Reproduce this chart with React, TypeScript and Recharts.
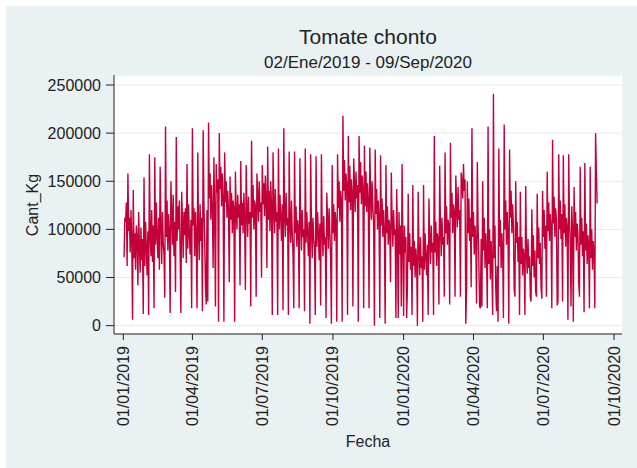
import React from "react";
import { LineChart, Line, XAxis, YAxis, CartesianGrid } from "recharts";

// Serie diaria (miles de kg), 02/Ene/2019 - 09/Sep/2020
const cantidadMilesKg: number[] = [
  71, 112, 108, 128, 62,
  158, 98, 112, 76, 120, 88, 6,
  141, 70, 96, 58, 104, 92, 42,
  118, 84, 55, 102, 68, 90, 12,
  154, 62, 108, 80, 52, 98, 11,
  178, 96, 72, 120, 66, 104, 18,
  175, 84, 128, 92, 70, 112, 58,
  165, 106, 64, 118, 86, 74, 29,
  207, 92, 130, 78, 116, 96, 13,
  150, 118, 84, 136, 72, 108, 35,
  196, 88, 124, 100, 130, 76, 13,
  139, 112, 70, 118, 94, 122, 65,
  168, 80, 126, 96, 74, 110, 18,
  205, 104, 122, 72, 118, 90, 18,
  180, 96, 68, 126, 88, 112, 15,
  203, 128, 88, 40, 22, 120, 25,
  211, 132, 158, 110, 146, 120, 60,
  175, 120, 20, 168, 138, 152, 4,
  200, 142, 165, 124, 158, 132, 4,
  180, 128, 150, 112, 140, 118, 45,
  155, 110, 138, 96, 130, 122, 4,
  160, 118, 100, 136, 112, 126, 42,
  171, 104, 128, 96, 138, 110, 37,
  167, 120, 92, 134, 106, 118, 20,
  192, 112, 146, 100, 130, 124, 30,
  158, 136, 108, 150, 118, 128, 50,
  167, 126, 148, 114, 156, 130, 60,
  186, 110, 140, 98, 150, 124, 11,
  180, 128, 96, 142, 108, 118, 11,
  184, 100, 136, 112, 88, 126, 16,
  205, 118, 92, 138, 104, 112, 11,
  181, 108, 86, 130, 96, 74, 18,
  181, 96, 124, 82, 110, 102, 18,
  174, 112, 78, 120, 92, 100, 15,
  184, 86, 118, 96, 72, 108, 2,
  178, 104, 70, 112, 90, 80, 11,
  176, 82, 118, 96, 68, 106, 21,
  178, 100, 72, 114, 84, 92, 8,
  138, 110, 80, 122, 96, 70, 2,
  167, 96, 126, 88, 118, 106, 4,
  178, 122, 150, 108, 140, 128, 4,
  218, 140, 172, 130, 158, 146, 11,
  197, 128, 166, 120, 152, 138, 20,
  174, 150, 118, 160, 132, 146, 4,
  197, 138, 170, 126, 156, 142, 18,
  187, 124, 160, 118, 148, 130, 18,
  185, 140, 110, 150, 122, 106, 0,
  183, 116, 142, 100, 130, 112, 8,
  177, 104, 132, 92, 120, 96, 2,
  167, 96, 124, 84, 110, 102, 45,
  159, 112, 82, 120, 94, 100, 8,
  142, 96, 8, 118, 74, 104, 20,
  168, 90, 10, 104, 76, 92, 8,
  40, 137, 66, 96, 58, 82, 11,
  146, 62, 88, 50, 80, 66, 0,
  139, 78, 52, 92, 60, 72, 4,
  146, 58, 96, 70, 52, 84, 11,
  132, 90, 64, 104, 76, 86, 11,
  197, 76, 108, 62, 96, 88, 22,
  166, 104, 72, 112, 84, 92, 30,
  180, 96, 124, 84, 110, 104, 22,
  190, 112, 138, 96, 126, 118, 30,
  156, 128, 102, 144, 110, 120, 30,
  159, 150, 132, 168, 140, 152, 2,
  40, 150, 96, 132, 88, 112, 40,
  205, 92, 118, 74, 104, 86, 23,
  170, 104, 66, 20, 18, 90, 20,
  150, 78, 112, 60, 96, 72, 18,
  207, 64, 100, 48, 88, 58, 11,
  241, 70, 104, 38, 15, 62, 4,
  184, 82, 110, 60, 96, 74, 8,
  209, 100, 130, 84, 118, 92, 2,
  183, 112, 140, 96, 126, 104, 38,
  30, 150, 86, 108, 66, 92, 11,
  139, 64, 92, 52, 80, 70, 11,
  145, 76, 54, 90, 60, 72, 30,
  25, 121, 62, 94, 50, 78, 35,
  30, 137, 70, 102, 64, 86, 40,
  28, 140, 92, 120, 80, 104, 30,
  160, 98, 128, 88, 116, 100, 18,
  193, 106, 134, 92, 122, 110, 21,
  25, 178, 100, 130, 90, 116, 25,
  177, 96, 126, 82, 112, 100, 6,
  178, 110, 86, 20, 124, 98, 4,
  144, 92, 118, 78, 106, 96, 45,
  30, 165, 84, 112, 72, 98, 14,
  169, 78, 106, 64, 94, 82, 18,
  165, 70, 100, 58, 88, 76, 18,
  200, 160, 127,
];

const fechaInicio: [number, number, number] = [2019, 1, 2];
const fechasTicks: [number, number, number][] = [
  [2019, 1, 1], [2019, 4, 1], [2019, 7, 1], [2019, 10, 1],
  [2020, 1, 1], [2020, 4, 1], [2020, 7, 1], [2020, 10, 1],
];
const yTicks: number[] = [0, 50000, 100000, 150000, 200000, 250000];

const dia = ([y, m, d]: [number, number, number]) => Date.UTC(y, m - 1, d) / 86400000;
const inicio = dia(fechaInicio);
const data = cantidadMilesKg.map((v, i) => ({ fecha: inicio + i, cant: v * 1000 }));
const xTicks = fechasTicks.map(dia);

const fmtFecha = (n: number) => {
  const dt = new Date(Math.round(n) * 86400000);
  const dd = String(dt.getUTCDate()).padStart(2, "0");
  const mm = String(dt.getUTCMonth() + 1).padStart(2, "0");
  return `${dd}/${mm}/${dt.getUTCFullYear()}`;
};

const FONT = "'Liberation Sans', Arial, sans-serif";
const TXT = "#222";

const XTick = (props: any) => {
  const { x, y, payload } = props;
  return (
    <text x={x} y={y} transform={`rotate(-90 ${x} ${y})`} textAnchor="end" dominantBaseline="central"
      fontFamily={FONT} fontSize={16} fill={TXT}>
      {fmtFecha(payload.value)}
    </text>
  );
};

export default function App() {
  return (
    <div style={{ position: "absolute", left: 0, top: 0, width: 637, height: 468, background: "#fff", overflow: "hidden" }}>
      <div style={{ position: "absolute", left: 6, top: 6, width: 631, height: 462, background: "#E9F1F3" }} />
      <div style={{ position: "absolute", left: 0, top: 0 }}>
        <LineChart width={637} height={468} data={data} margin={{ top: 75, right: 15, bottom: 34, left: 14 }}>
          <CartesianGrid vertical={false} horizontal={true} stroke="#E3ECEE" strokeWidth={1} fill="#ffffff" />
          <XAxis dataKey="fecha" type="number" domain={[xTicks[0] - 12.1, xTicks[7] + 10.4]} ticks={xTicks}
            interval={0} height={100} tickSize={6} tickMargin={6} tick={<XTick />}
            axisLine={{ stroke: TXT }} tickLine={{ stroke: TXT }} allowDataOverflow />
          <YAxis type="number" domain={[-8700, 260400]} ticks={yTicks} interval={0} width={100} tickSize={8}
            tickMargin={5} tick={{ fontFamily: FONT, fontSize: 16, fill: TXT }}
            axisLine={{ stroke: TXT }} tickLine={{ stroke: TXT }} allowDataOverflow />
          <Line type="linear" dataKey="cant" stroke="#C4003A" strokeWidth={1.4} dot={false} isAnimationActive={false} />
        </LineChart>
      </div>
      <svg width={637} height={468} style={{ position: "absolute", left: 0, top: 0, pointerEvents: "none" }}>
        <text x={368} y={44} textAnchor="middle" fontFamily={FONT} fontSize={21} fill={TXT}>Tomate chonto</text>
        <text x={368} y={68} textAnchor="middle" fontFamily={FONT} fontSize={17} fill={TXT}>02/Ene/2019 - 09/Sep/2020</text>
        <text x={32} y={205} transform="rotate(-90 32 205)" textAnchor="middle" dominantBaseline="central"
          fontFamily={FONT} fontSize={16} fill={TXT}>Cant_Kg</text>
        <text x={368} y={441} textAnchor="middle" dominantBaseline="central" fontFamily={FONT} fontSize={16} fill={TXT}>Fecha</text>
      </svg>
    </div>
  );
}
